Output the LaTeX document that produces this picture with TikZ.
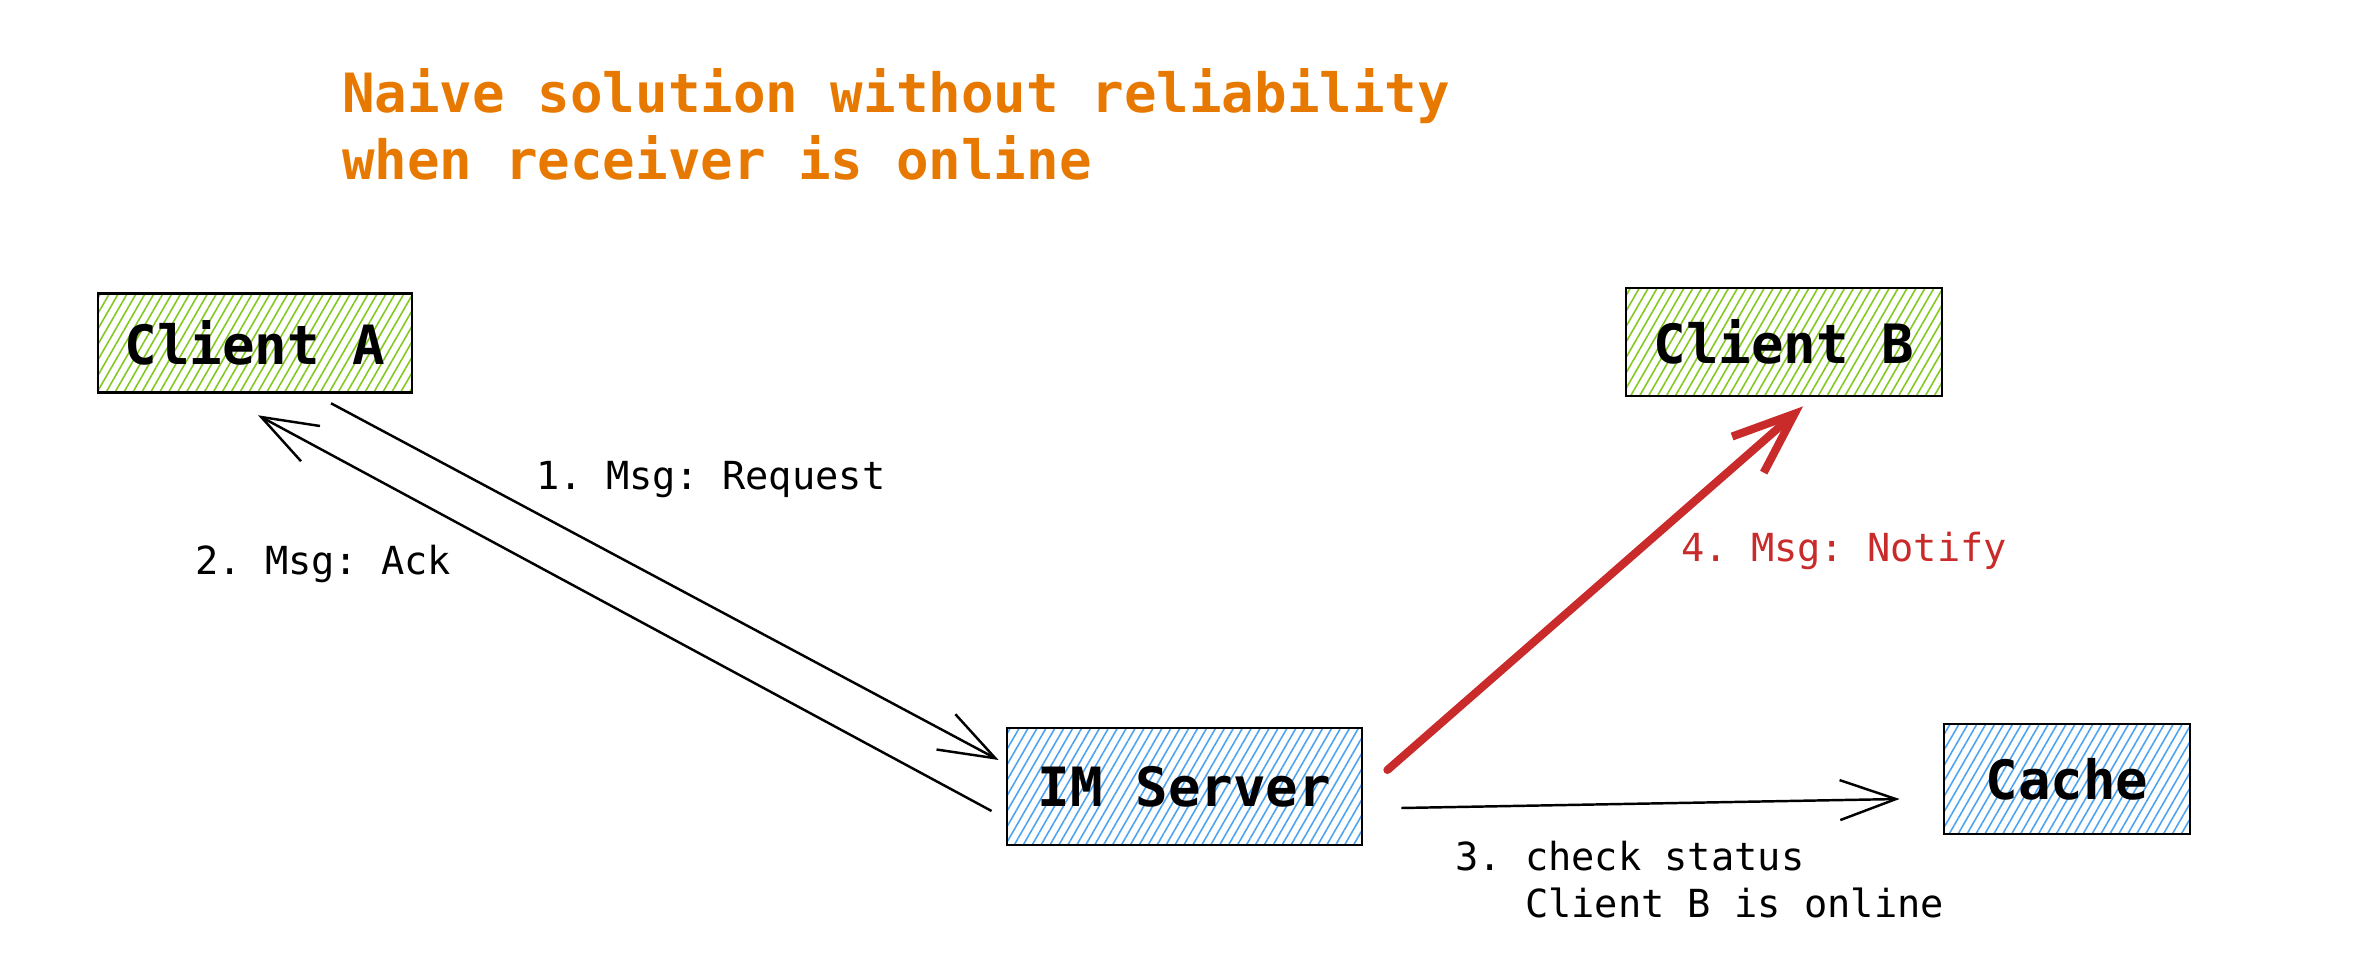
\documentclass[tikz,border=0pt]{standalone}
\usepackage{fontspec}
\setmonofont{DejaVu Sans Mono}
\usetikzlibrary{arrows.meta,patterns.meta}

\definecolor{hatchgreen}{RGB}{130,201,30}
\definecolor{hatchblue}{RGB}{77,163,240}
\definecolor{notifyred}{RGB}{201,42,42}
\definecolor{titleorange}{RGB}{232,121,0}

\begin{document}
\begin{tikzpicture}[->,>={Straight Barb[length=5.6mm,width=4mm]},line width=0.7pt,
    client node/.style={rectangle,draw,line width=0.8pt,inner sep=0pt,
      pattern={Lines[angle=60,distance=2.2pt,line width=0.45pt]},pattern color=hatchgreen,
      font=\ttfamily\bfseries\fontsize{15.4}{18}\selectfont},
    server node/.style={client node,pattern color=hatchblue},
    msg/.style={font=\ttfamily\fontsize{11}{13.4}\selectfont,inner sep=0pt,align=left},
    notify/.style={draw=notifyred,line width=2.3pt,line cap=round,
      -{Straight Barb[length=6.2mm,width=4.8mm]}}]

  \useasboundingbox (0,0) rectangle (23.54,9.78);

  \node[anchor=north west,inner sep=0pt,align=left,text=titleorange,
    font=\ttfamily\bfseries\fontsize{15.4}{19.1}\selectfont] (title) at (3.41,9.11)
    {Naive solution without reliability\\when receiver is online};

  \node[client node,minimum width=3.14cm,minimum height=0.99cm] (ca) at (2.55,6.35) {Client A};
  \node[client node,minimum width=3.16cm,minimum height=1.08cm] (cb) at (17.84,6.36) {Client B};
  \node[server node,minimum width=3.55cm,minimum height=1.17cm] (ims) at (11.845,1.915) {IM Server};
  \node[server node,minimum width=2.46cm,minimum height=1.10cm] (cache) at (20.67,1.99) {Cache};

  \node[msg,anchor=base west] (req) at (5.35,4.885) {1. Msg: Request};
  \node[msg,anchor=base west] (ack) at (1.94,4.03) {2. Msg: Ack};
  \node[msg,anchor=north west] (chk) at (14.54,1.386) {3. check status\\\hphantom{3. }Client B is online};
  \node[msg,anchor=base west,text=notifyred] (ntf) at (16.80,4.16) {4. Msg: Notify};

  \path
    ([xshift=7.6mm,yshift=-1mm]ca.south) edge ([xshift=-0.7mm,yshift=2.65mm]ims.west)
    ([xshift=-1.4mm,yshift=-2.45mm]ims.west) edge ([xshift=0.3mm,yshift=-2.2mm]ca.south)
    ([xshift=3.8mm,yshift=-2.15mm]ims.east) edge ([xshift=-4.3mm,yshift=-2mm]cache.west)
    ([xshift=2.4mm,yshift=1.65mm]ims.east) edge[notify] ([xshift=1.9mm,yshift=-0.9mm]cb.south);
\end{tikzpicture}
\end{document}
